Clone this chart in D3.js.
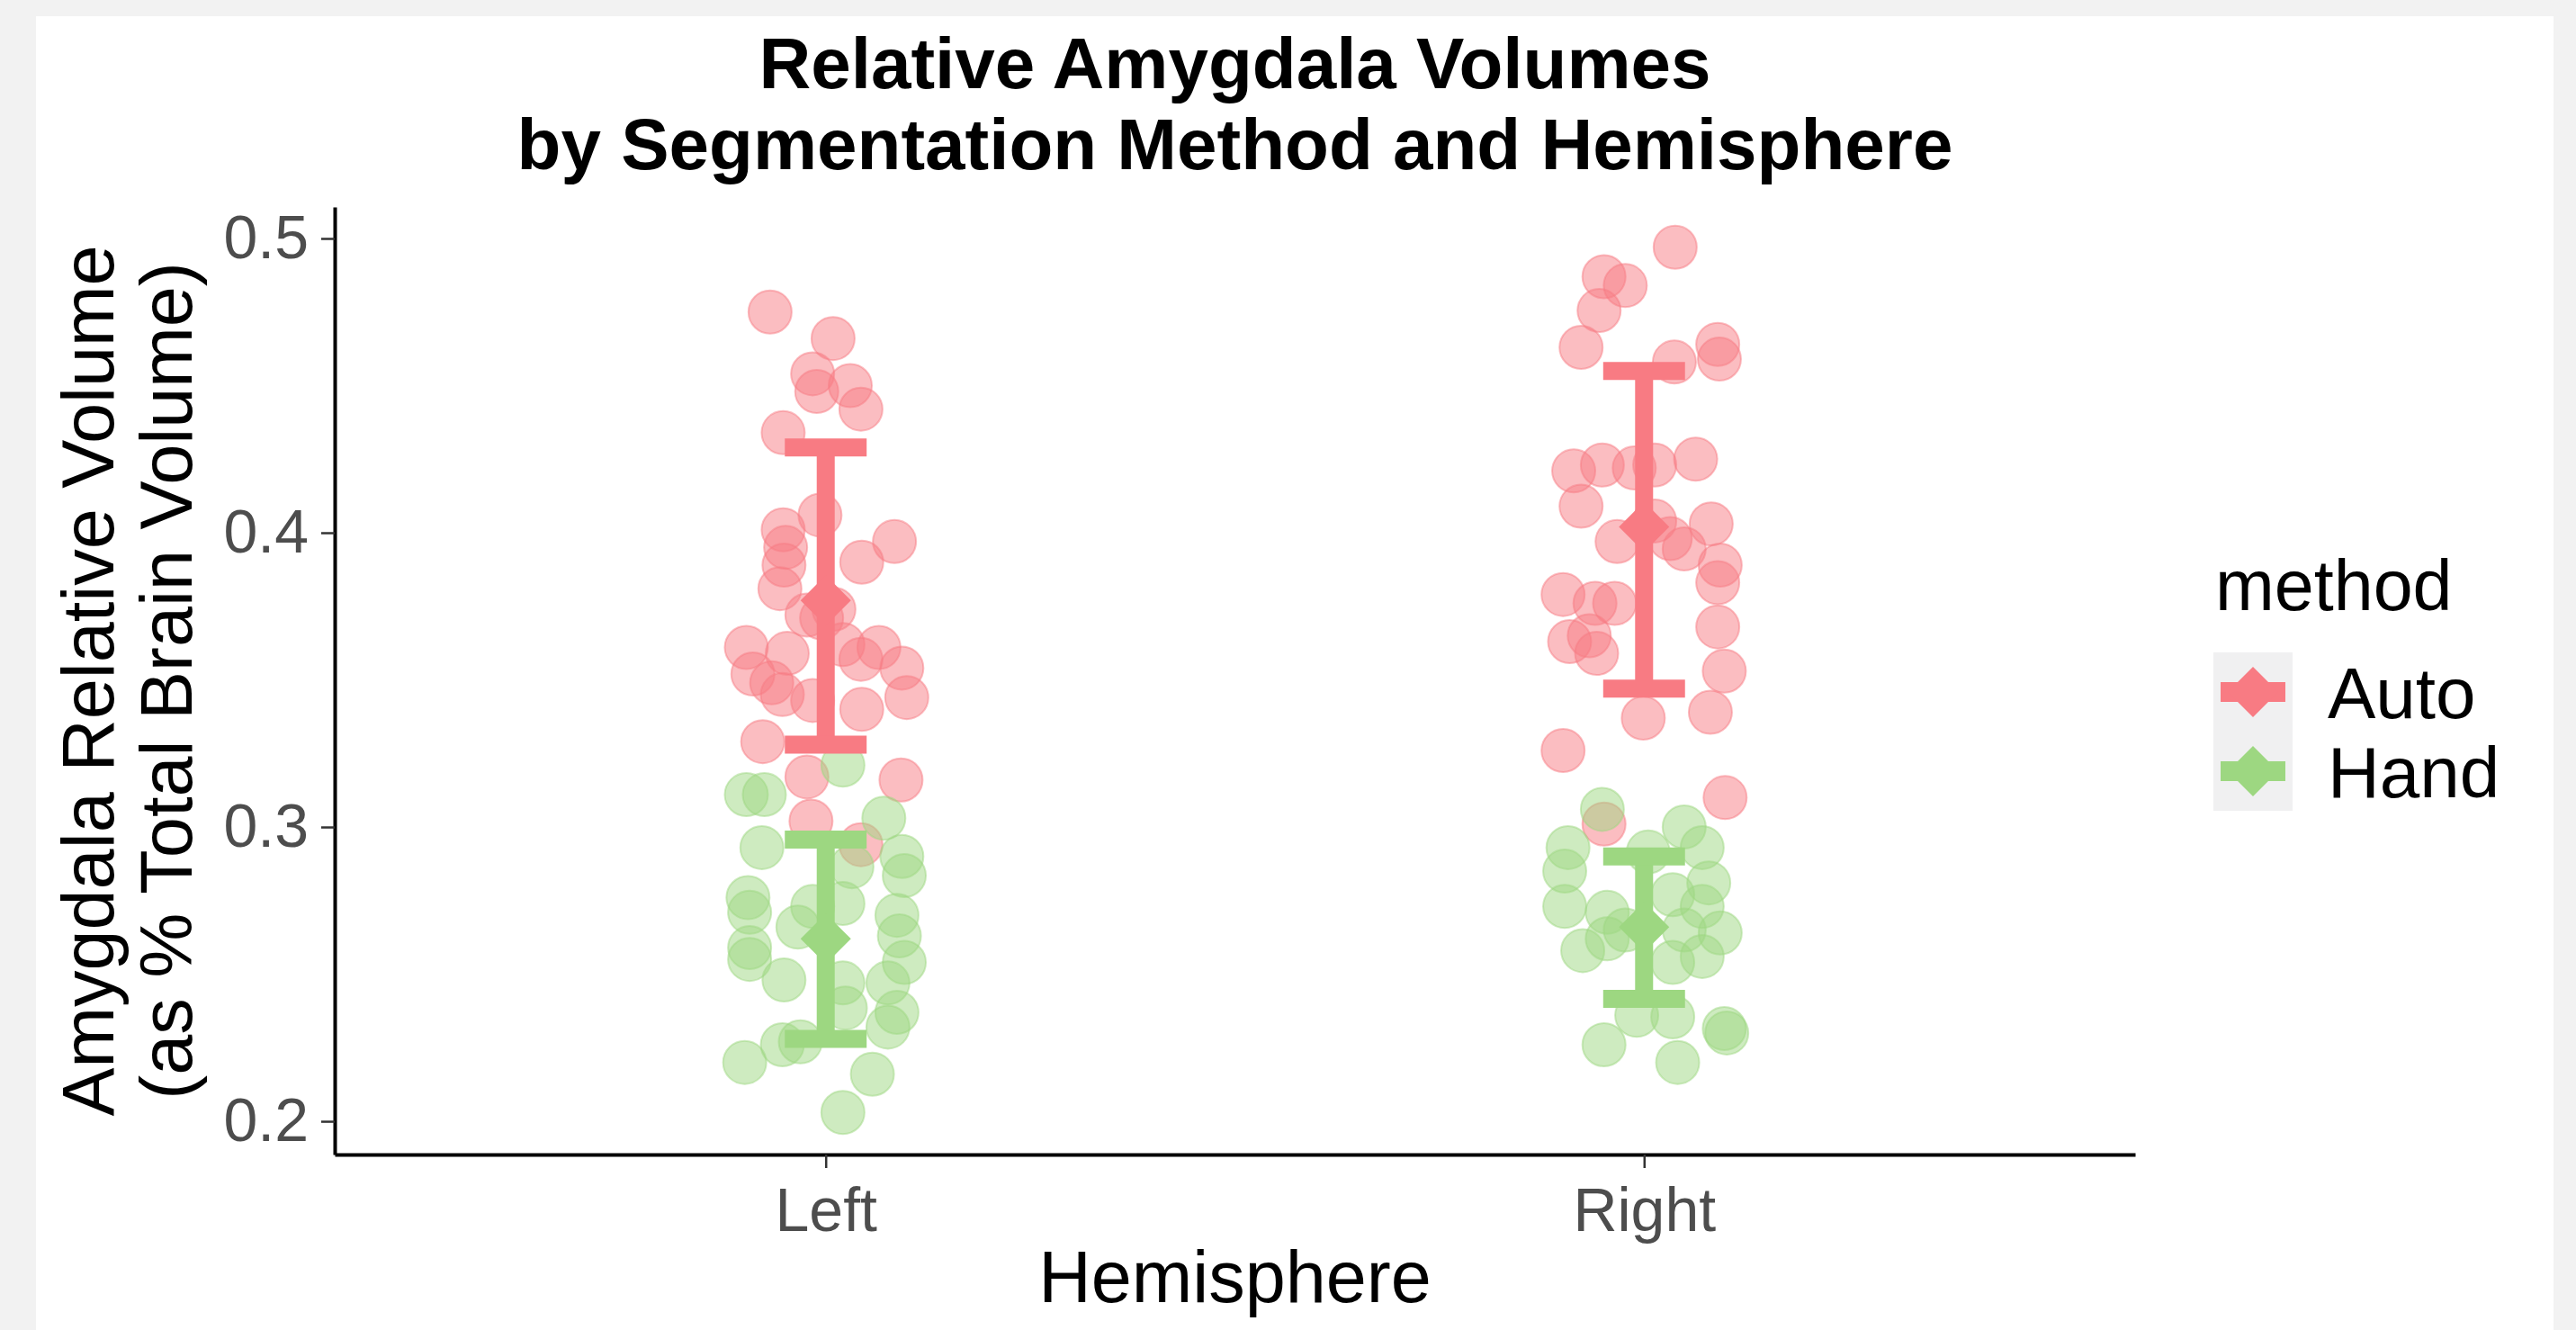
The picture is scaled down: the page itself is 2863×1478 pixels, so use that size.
<!DOCTYPE html>
<html>
<head>
<meta charset="utf-8">
<script src="https://cdn.jsdelivr.net/npm/d3@7"></script>
<style>
  html, body { margin: 0; padding: 0; background: #f2f2f2; }
  svg { display: block; }
  text { font-family: "Liberation Sans", Arial, Helvetica, sans-serif; }
</style>
</head>
<body>
<div id="chart"></div>
<script>
// categories
var hemispheres = ["Left", "Right"];
var methods = ["Auto", "Hand"];
var yTicks = [0.2, 0.3, 0.4, 0.5];

// individual subjects: [jitter (in category units), relative volume]
var leftAuto = [
  [-0.068, 0.475], [0.009, 0.466], [-0.016, 0.454], [-0.011, 0.448], [0.030, 0.450],
  [0.043, 0.442], [-0.052, 0.434], [-0.007, 0.406], [-0.052, 0.401], [-0.049, 0.395],
  [0.084, 0.397], [0.044, 0.390], [-0.051, 0.389], [-0.056, 0.381], [-0.023, 0.372],
  [0.010, 0.374], [-0.005, 0.371], [-0.097, 0.361], [-0.047, 0.359], [-0.089, 0.352],
  [-0.066, 0.349], [-0.053, 0.345], [-0.016, 0.343], [0.021, 0.362], [0.065, 0.361],
  [0.043, 0.357], [0.093, 0.354], [0.044, 0.340], [0.099, 0.344], [-0.077, 0.329],
  [-0.023, 0.317], [0.092, 0.316], [-0.018, 0.302], [0.043, 0.294]
];
var leftHand = [
  [-0.097, 0.311], [-0.075, 0.311], [0.021, 0.321], [-0.078, 0.293], [0.071, 0.303],
  [0.093, 0.290], [0.032, 0.2865], [0.096, 0.2835], [-0.095, 0.276], [-0.093, 0.271],
  [0.021, 0.274], [-0.016, 0.273], [-0.034, 0.266], [-0.093, 0.259], [-0.093, 0.255],
  [-0.051, 0.248], [0.087, 0.270], [0.090, 0.263], [0.096, 0.254], [0.076, 0.247],
  [0.021, 0.247], [0.024, 0.2385], [0.087, 0.237], [0.076, 0.232], [-0.053, 0.226],
  [-0.031, 0.227], [0.057, 0.216], [-0.099, 0.220], [0.021, 0.203]
];
var rightAuto = [
  [0.038, 0.497], [-0.049, 0.487], [-0.023, 0.484], [-0.055, 0.4755], [-0.077, 0.463],
  [0.037, 0.458], [0.090, 0.464], [0.092, 0.459], [-0.086, 0.421], [-0.051, 0.423],
  [-0.012, 0.422], [0.013, 0.423], [0.063, 0.425], [-0.077, 0.409], [-0.033, 0.397],
  [0.049, 0.3945], [0.082, 0.403], [0.093, 0.389], [0.090, 0.383], [-0.099, 0.379],
  [-0.060, 0.376], [-0.036, 0.376], [-0.091, 0.363], [-0.067, 0.365], [-0.058, 0.359],
  [0.090, 0.368], [0.098, 0.353], [-0.001, 0.337], [0.081, 0.339], [-0.099, 0.326],
  [0.099, 0.310], [0.032, 0.398], [-0.049, 0.301], [0.013, 0.404]
];
var rightHand = [
  [-0.051, 0.306], [-0.093, 0.293], [-0.097, 0.285], [-0.097, 0.273], [0.049, 0.300],
  [0.071, 0.293], [0.005, 0.2915], [0.079, 0.281], [0.035, 0.277], [0.071, 0.273],
  [-0.045, 0.271], [0.093, 0.264], [-0.075, 0.258], [-0.045, 0.262], [-0.023, 0.265],
  [0.049, 0.265], [0.035, 0.254], [0.071, 0.256], [-0.009, 0.236], [0.035, 0.2355],
  [0.098, 0.2315], [0.101, 0.230], [-0.049, 0.226], [0.041, 0.220]
];

// summaries per hemisphere (Left, Right): mean and error bar ends
var autoMean = [0.377, 0.402];
var autoLow  = [0.328, 0.347];
var autoHigh = [0.429, 0.455];
var handMean = [0.262, 0.266];
var handLow  = [0.228, 0.2416];
var handHigh = [0.2957, 0.290];

var colors = { Auto: "#f87b83", Hand: "#9dd781" };

var width = 2863, height = 1478;
var plot = { left: 372, right: 2373, top: 230, bottom: 1283 };

var svg = d3.select("#chart").append("svg")
  .attr("width", width)
  .attr("height", height);

svg.append("rect")
  .attr("x", 40).attr("y", 18)
  .attr("width", 2798).attr("height", height - 18)
  .attr("fill", "#ffffff");

var x = d3.scalePoint()
  .domain(hemispheres)
  .range([plot.left, plot.right])
  .padding(0.6);
var step = x.step();

var y = d3.scaleLinear()
  .domain([0.1887, 0.5107])
  .range([plot.bottom, plot.top]);

var groups = [
  { method: "Auto", hemi: "Left", pts: leftAuto },
  { method: "Hand", hemi: "Left", pts: leftHand },
  { method: "Auto", hemi: "Right", pts: rightAuto },
  { method: "Hand", hemi: "Right", pts: rightHand }
];

// jittered points
groups.forEach(function(g) {
  svg.append("g").selectAll("circle")
    .data(g.pts)
    .enter().append("circle")
    .attr("cx", function(d) { return x(g.hemi) + d[0] * step; })
    .attr("cy", function(d) { return y(d[1]); })
    .attr("r", 24)
    .attr("fill", colors[g.method])
    .attr("fill-opacity", 0.5)
    .attr("stroke", colors[g.method])
    .attr("stroke-opacity", 0.5)
    .attr("stroke-width", 2);
});

// error bars + mean diamonds
var summaries = [];
hemispheres.forEach(function(h, i) {
  summaries.push({ method: "Auto", hemi: h, mean: autoMean[i], lo: autoLow[i], hi: autoHigh[i] });
  summaries.push({ method: "Hand", hemi: h, mean: handMean[i], lo: handLow[i], hi: handHigh[i] });
});

var capHalf = 0.05 * step;
var bars = svg.append("g");
summaries.forEach(function(s) {
  var cx = x(s.hemi);
  var c = colors[s.method];
  bars.append("line")
    .attr("x1", cx).attr("x2", cx)
    .attr("y1", y(s.lo)).attr("y2", y(s.hi))
    .attr("stroke", c).attr("stroke-width", 20);
  [s.lo, s.hi].forEach(function(v) {
    bars.append("line")
      .attr("x1", cx - capHalf).attr("x2", cx + capHalf)
      .attr("y1", y(v)).attr("y2", y(v))
      .attr("stroke", c).attr("stroke-width", 20);
  });
});

function diamond(cx, cy, r) {
  return "M" + cx + "," + (cy - r) + "L" + (cx + r) + "," + cy +
    "L" + cx + "," + (cy + r) + "L" + (cx - r) + "," + cy + "Z";
}

svg.append("g").selectAll("path")
  .data(summaries)
  .enter().append("path")
  .attr("d", function(s) { return diamond(x(s.hemi), y(s.mean), 28); })
  .attr("fill", function(s) { return colors[s.method]; });

// axes
var yAxis = svg.append("g")
  .attr("transform", "translate(" + plot.left + ",0)")
  .call(d3.axisLeft(y).tickValues(yTicks).tickFormat(d3.format(".1f"))
    .tickSize(15).tickSizeOuter(0).tickPadding(14));

var xAxis = svg.append("g")
  .attr("transform", "translate(0," + plot.bottom + ")")
  .call(d3.axisBottom(x).tickSize(15).tickSizeOuter(0).tickPadding(22));

[yAxis, xAxis].forEach(function(ax) {
  ax.select(".domain").attr("stroke", "#000").attr("stroke-width", 4);
  ax.selectAll(".tick line").attr("stroke", "#333").attr("stroke-width", 2.5);
  ax.selectAll(".tick text")
    .attr("fill", "#4d4d4d")
    .style("font-size", "68px")
    .style("font-family", "'Liberation Sans', Arial, sans-serif");
});

// titles
var titleLines = ["Relative Amygdala Volumes", "by Segmentation Method and Hemisphere"];
svg.append("g").selectAll("text")
  .data(titleLines)
  .enter().append("text")
  .attr("x", (plot.left + plot.right) / 2)
  .attr("y", function(d, i) { return 98 + i * 90; })
  .attr("text-anchor", "middle")
  .style("font-size", "80px")
  .style("font-weight", "bold")
  .attr("fill", "#000")
  .text(function(d) { return d; });

svg.append("text")
  .attr("x", (plot.left + plot.right) / 2)
  .attr("y", 1447)
  .attr("text-anchor", "middle")
  .style("font-size", "81px")
  .attr("fill", "#000")
  .text("Hemisphere");

var yTitle = ["Amygdala Relative Volume", "(as % Total Brain Volume)"];
var yMid = (plot.top + plot.bottom) / 2;
svg.append("g").selectAll("text")
  .data(yTitle)
  .enter().append("text")
  .attr("transform", function(d, i) {
    return "translate(" + (126 + i * 87) + "," + yMid + ") rotate(-90)";
  })
  .attr("text-anchor", "middle")
  .style("font-size", "81px")
  .attr("fill", "#000")
  .text(function(d) { return d; });

// legend
var legend = svg.append("g");
legend.append("text")
  .attr("x", 2462).attr("y", 678)
  .style("font-size", "79px")
  .attr("fill", "#000")
  .text("method");

var keyX = 2460, keyY = 725, keySize = 88;
methods.forEach(function(m, i) {
  var ky = keyY + i * keySize;
  legend.append("rect")
    .attr("x", keyX).attr("y", ky)
    .attr("width", keySize).attr("height", keySize)
    .attr("fill", "#f0f0f1");
  var cx = keyX + keySize / 2, cy = ky + keySize / 2;
  legend.append("rect")
    .attr("x", cx - 36).attr("y", cy - 11)
    .attr("width", 72).attr("height", 22)
    .attr("fill", colors[m]);
  legend.append("path")
    .attr("d", diamond(cx, cy, 28))
    .attr("fill", colors[m]);
  legend.append("text")
    .attr("x", 2587).attr("y", cy + 29)
    .style("font-size", "80px")
    .attr("fill", "#000")
    .text(m);
});
</script>
</body>
</html>
